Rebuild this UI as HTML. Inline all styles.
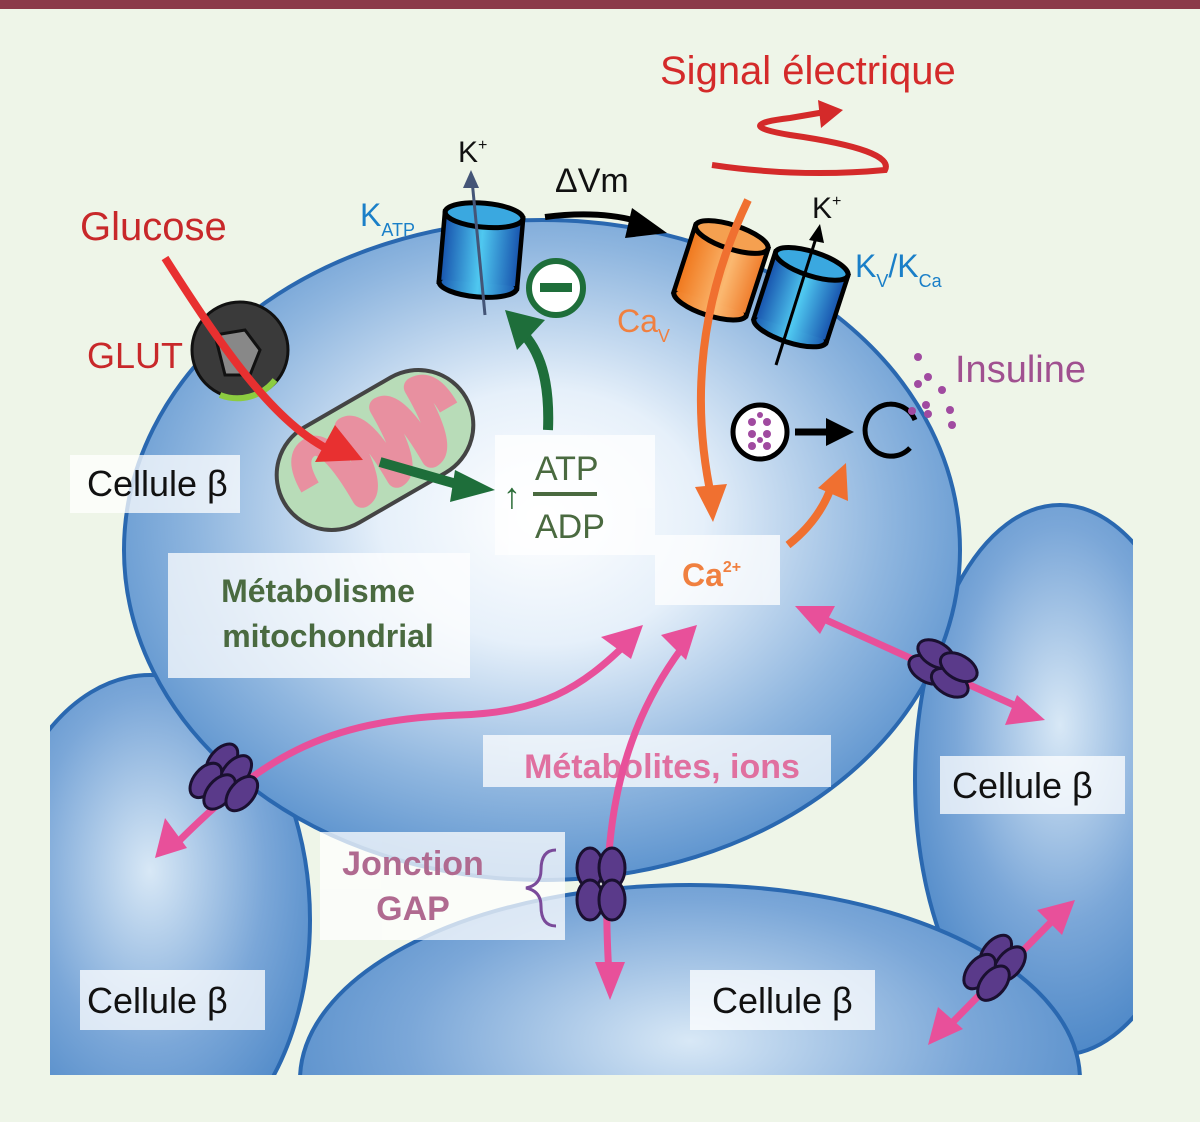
<!DOCTYPE html>
<html><head><meta charset="utf-8"><style>
html,body{margin:0;padding:0;background:#eef5e8;width:1200px;height:1122px;overflow:hidden;position:relative;}
svg{position:absolute;left:0;top:0;display:block;font-family:"Liberation Sans Narrow","Liberation Sans",sans-serif;}
</style></head><body>
<svg width="1200" height="1122" viewBox="0 0 1200 1122" xmlns="http://www.w3.org/2000/svg" overflow="hidden">
<defs>
<radialGradient id="cg" cx="0.5" cy="0.45" r="0.55">
<stop offset="0" stop-color="#ffffff"/><stop offset="0.35" stop-color="#e6f0fa"/><stop offset="0.75" stop-color="#8fb6df"/><stop offset="1" stop-color="#5f95cf"/></radialGradient>
<radialGradient id="cg2" cx="0.5" cy="0.4" r="0.6">
<stop offset="0" stop-color="#d8e8f6"/><stop offset="0.6" stop-color="#7ba7d8"/><stop offset="1" stop-color="#4f89c8"/></radialGradient>
<linearGradient id="bl" x1="0" x2="1"><stop offset="0" stop-color="#1a58b0"/><stop offset="0.5" stop-color="#4fc8f0"/><stop offset="1" stop-color="#1a58b0"/></linearGradient>
<linearGradient id="or" x1="0" x2="1"><stop offset="0" stop-color="#f07a20"/><stop offset="0.6" stop-color="#fbb870"/><stop offset="1" stop-color="#f08030"/></linearGradient>
<clipPath id="fr"><rect x="50" y="0" width="1083" height="1075"/></clipPath>
</defs>
<rect width="1200" height="1122" fill="#eef5e8"/>
<rect width="1200" height="9" fill="#8b3a4a"/>
<g clip-path="url(#fr)">
<ellipse cx="150" cy="920" rx="160" ry="245" fill="url(#cg2)" stroke="#2a68b0" stroke-width="4"/>
<ellipse cx="1060" cy="780" rx="145" ry="275" fill="url(#cg2)" stroke="#2a68b0" stroke-width="4"/>
<ellipse cx="690" cy="1080" rx="390" ry="195" fill="url(#cg2)" stroke="#2a68b0" stroke-width="4"/>
<ellipse cx="542" cy="550" rx="418" ry="330" fill="url(#cg)" stroke="#2a68b0" stroke-width="4"/>
</g>
<g fill="#ffffff" opacity="0.75">
<rect x="70" y="455" width="170" height="58"/>
<rect x="168" y="553" width="302" height="125"/>
<rect x="495" y="435" width="160" height="120"/>
<rect x="655" y="535" width="125" height="70"/>
<rect x="483" y="735" width="348" height="52"/>
<rect x="320" y="832" width="245" height="108"/>
<rect x="940" y="756" width="185" height="58"/>
<rect x="80" y="970" width="185" height="60"/>
<rect x="690" y="970" width="185" height="60"/>
</g>
<circle cx="240" cy="350" r="48" fill="#3a3a3a" stroke="#111" stroke-width="3"/>
<path d="M275,380 A48,48 0 0 1 220,395" stroke="#8ccc40" stroke-width="6" fill="none"/>
<path d="M215,335 l30,-5 l15,20 l-10,25 l-25,0z" fill="#888" stroke="#111" stroke-width="3"/>
<g transform="rotate(-30 375 450)">
<rect x="270" y="395" width="210" height="110" rx="55" fill="#b8dcb8" stroke="#444" stroke-width="4"/>
<path d="M300,450 q0,-35 20,-35 q20,0 20,70 q20,0 20,-70 q20,0 20,70 q20,0 20,-70 q20,0 20,70 q20,0 20,-70 q20,0 20,35" stroke="#e890a0" stroke-width="20" fill="none" stroke-linejoin="round"/>
</g>
<path d="M165,258 C230,360 280,430 340,455" stroke="#e83030" stroke-width="8" fill="none"/>
<path d="M315,462 l48,-2 l-28,-35z" fill="#e83030"/>
<path d="M380,462 L460,485" stroke="#1e6e3a" stroke-width="10"/>
<path d="M455,470 l40,20 l-45,12z" fill="#1e6e3a"/>
<path d="M548,430 C550,380 540,350 520,330" stroke="#1e6e3a" stroke-width="10" fill="none"/>
<path d="M505,310 l40,10 l-28,30z" fill="#1e6e3a"/>
<circle cx="556" cy="288" r="27" fill="#fff" stroke="#1e6e3a" stroke-width="6"/>
<rect x="540" y="283" width="32" height="9" fill="#1e6e3a"/>
<g transform="rotate(5 480 250)">
<rect x="442" y="215" width="78" height="70" fill="url(#bl)" stroke="#000" stroke-width="5"/>
<ellipse cx="481" cy="285" rx="39" ry="12" fill="url(#bl)" stroke="#000" stroke-width="5"/>
<rect x="444" y="217" width="74" height="66" fill="url(#bl)"/>
<ellipse cx="481" cy="215" rx="39" ry="12" fill="#3aa8e0" stroke="#000" stroke-width="5"/>
</g>
<path d="M485,315 L472,180" stroke="#445577" stroke-width="3"/>
<path d="M463,188 l8,-18 l8,18z" fill="#445577"/>
<text x="458" y="162" font-size="30" fill="#111">K<tspan font-size="16" dy="-12">+</tspan></text>
<text x="360" y="226" font-size="32" fill="#1a7fc8">K<tspan font-size="18" dy="10">ATP</tspan></text>
<text x="555" y="192" font-size="34" fill="#111">ΔVm</text>
<path d="M545,217 Q600,210 640,222" stroke="#000" stroke-width="6" fill="none"/>
<path d="M632,208 l35,25 l-42,5z" fill="#000"/>
<g transform="rotate(18 720 270)">
<rect x="683" y="235" width="76" height="70" fill="url(#or)" stroke="#000" stroke-width="5"/>
<ellipse cx="721" cy="305" rx="38" ry="12" fill="url(#or)" stroke="#000" stroke-width="5"/>
<rect x="685" y="237" width="72" height="66" fill="url(#or)"/>
<ellipse cx="721" cy="235" rx="38" ry="12" fill="#f5a050" stroke="#000" stroke-width="5"/>
</g>
<g transform="rotate(18 800 300)">
<rect x="762" y="262" width="76" height="70" fill="url(#bl)" stroke="#000" stroke-width="5"/>
<ellipse cx="800" cy="332" rx="38" ry="12" fill="url(#bl)" stroke="#000" stroke-width="5"/>
<rect x="764" y="264" width="72" height="66" fill="url(#bl)"/>
<ellipse cx="800" cy="262" rx="38" ry="12" fill="#3aa8e0" stroke="#000" stroke-width="5"/>
</g>
<path d="M776,365 L816,238" stroke="#000" stroke-width="3"/>
<path d="M809,240 l11,-16 l4,19z" fill="#000"/>
<text x="812" y="218" font-size="30" fill="#111">K<tspan font-size="16" dy="-12">+</tspan></text>
<text x="855" y="277" font-size="32" fill="#1a7fc8">K<tspan font-size="18" dy="10">V</tspan><tspan dy="-10">/K</tspan><tspan font-size="18" dy="10">Ca</tspan></text>
<text x="617" y="332" font-size="32" fill="#f08040">Ca<tspan font-size="18" dy="10">V</tspan></text>
<text x="660" y="84" font-size="40" fill="#d42a2a">Signal électrique</text>
<path d="M712,165 Q800,178 885,170 Q895,150 790,135 Q730,125 790,118 L825,112" stroke="#d42a2a" stroke-width="6" fill="none"/>
<path d="M818,100 l25,10 l-22,18z" fill="#d42a2a"/>
<path d="M748,200 C700,300 690,400 712,500" stroke="#f07030" stroke-width="8" fill="none"/>
<path d="M695,487 l18,35 l14,-38z" fill="#f07030"/>
<path d="M788,545 Q820,520 832,485" stroke="#f07030" stroke-width="8" fill="none"/>
<path d="M818,488 l28,-25 l2,38z" fill="#f07030"/>
<circle cx="760" cy="432" r="27" fill="#fff" stroke="#000" stroke-width="5"/>
<g fill="#a04aa0"><circle cx="752" cy="422" r="4"/><circle cx="767" cy="422" r="4"/><circle cx="752" cy="434" r="4"/><circle cx="767" cy="434" r="4"/><circle cx="752" cy="446" r="4"/><circle cx="767" cy="446" r="4"/><circle cx="760" cy="415" r="3"/><circle cx="760" cy="440" r="3"/></g>
<path d="M795,432 L830,432" stroke="#000" stroke-width="7"/>
<path d="M826,418 l28,14 l-28,14z" fill="#000"/>
<path d="M910,448 A26,26 0 1 1 915,420" stroke="#000" stroke-width="5" fill="none"/>
<g fill="#a04aa0"><circle cx="918" cy="357" r="4"/><circle cx="928" cy="377" r="4"/><circle cx="918" cy="384" r="4"/><circle cx="942" cy="390" r="4"/><circle cx="926" cy="405" r="4"/><circle cx="912" cy="411" r="4"/><circle cx="928" cy="414" r="4"/><circle cx="950" cy="410" r="4"/><circle cx="952" cy="425" r="4"/></g>
<text x="955" y="382" font-size="38" fill="#a05090">Insuline</text>
<text x="80" y="240" font-size="40" fill="#c8282a">Glucose</text>
<text x="87" y="368" font-size="36" fill="#c8282a">GLUT</text>
<text x="87" y="496" font-size="36" fill="#111">Cellule β</text>
<text x="318" y="602" font-size="32" font-weight="bold" fill="#4a6a40" text-anchor="middle">Métabolisme</text>
<text x="328" y="647" font-size="32" font-weight="bold" fill="#4a6a40" text-anchor="middle">mitochondrial</text>
<text x="503" y="508" font-size="36" fill="#2e6e3a">↑</text>
<text x="535" y="480" font-size="34" fill="#4a6a40">ATP</text>
<rect x="533" y="492" width="64" height="4" fill="#4a6a40"/>
<text x="535" y="538" font-size="34" fill="#4a6a40">ADP</text>
<text x="682" y="586" font-size="32" font-weight="bold" fill="#f08040">Ca<tspan font-size="16" dy="-14">2+</tspan></text>
<text x="662" y="778" font-size="34" font-weight="bold" fill="#e070a0" text-anchor="middle">Métabolites, ions</text>
<text x="413" y="875" font-size="34" font-weight="bold" fill="#b06a90" text-anchor="middle">Jonction</text>
<text x="413" y="920" font-size="34" font-weight="bold" fill="#b06a90" text-anchor="middle">GAP</text>
<path d="M556,850 q-15,0 -15,20 q0,15 -15,18 q15,3 15,18 q0,20 15,20" stroke="#7a4a9a" stroke-width="3" fill="none"/>
<text x="952" y="798" font-size="36" fill="#111">Cellule β</text>
<text x="87" y="1013" font-size="36" fill="#111">Cellule β</text>
<text x="712" y="1013" font-size="36" fill="#111">Cellule β</text>
<g stroke="#e8509a" stroke-width="7" fill="none">
<path d="M175,845 C260,760 320,720 460,715 C540,712 580,690 630,640"/>
<path d="M610,990 C600,850 610,740 688,640"/>
<path d="M815,615 L1025,710"/>
<path d="M945,1030 L1058,915"/>
</g>
<g fill="#e8509a">
<path d="M155,858 l10,-40 l22,30z"/>
<path d="M643,625 l-42,12 l30,22z"/>
<path d="M697,625 l-36,10 l25,25z"/>
<path d="M610,1000 l-15,-38 l30,0z"/>
<path d="M795,606 l40,0 l-15,28z"/>
<path d="M1045,720 l-40,5 l12,-30z"/>
<path d="M928,1045 l10,-38 l25,22z"/>
<path d="M1075,900 l-38,10 l25,25z"/>
</g>
<g fill="#5a3a8a" stroke="#1a1030" stroke-width="3">
<g transform="rotate(40 228 782)"><ellipse cx="210" cy="770" rx="12" ry="20"/><ellipse cx="228" cy="770" rx="12" ry="20"/><ellipse cx="210" cy="795" rx="12" ry="20"/><ellipse cx="228" cy="795" rx="12" ry="20"/><ellipse cx="246" cy="782" rx="12" ry="20"/></g>
<g><ellipse cx="590" cy="868" rx="13" ry="20"/><ellipse cx="612" cy="868" rx="13" ry="20"/><ellipse cx="590" cy="900" rx="13" ry="20"/><ellipse cx="612" cy="900" rx="13" ry="20"/></g>
<g transform="rotate(-60 945 665)"><ellipse cx="932" cy="652" rx="12" ry="20"/><ellipse cx="950" cy="652" rx="12" ry="20"/><ellipse cx="932" cy="678" rx="12" ry="20"/><ellipse cx="950" cy="678" rx="12" ry="20"/></g>
<g transform="rotate(40 998 970)"><ellipse cx="985" cy="958" rx="12" ry="20"/><ellipse cx="1003" cy="958" rx="12" ry="20"/><ellipse cx="985" cy="983" rx="12" ry="20"/><ellipse cx="1003" cy="983" rx="12" ry="20"/></g>
</g>
</svg>
</body></html>
